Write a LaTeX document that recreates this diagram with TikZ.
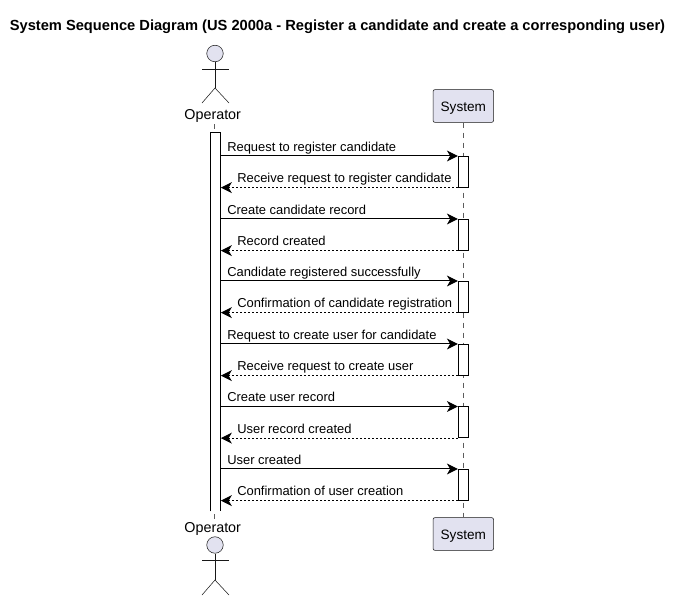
\documentclass[tikz,border=0pt]{standalone}
\usepackage{fontspec}
\setmainfont{Liberation Sans}
\usetikzlibrary{arrows.meta}
\definecolor{partfill}{HTML}{E2E2F0}
\definecolor{partline}{HTML}{181818}
\tikzset{
  partbox/.style={draw=partline,line width=.4pt,fill=partfill,rounded corners=1.5pt,minimum width=45.4pt,minimum height=24.6pt,inner sep=0pt,text height=8.3pt,text depth=0pt,font=\fontsize{10.2}{12}\selectfont},
  partlabel/.style={inner sep=0pt,font=\fontsize{10.75}{12}\selectfont},
  actorline/.style={draw=partline,line width=.4pt},
  actorhead/.style={circle,draw=partline,line width=.4pt,fill=partfill,minimum size=12.4pt,inner sep=0pt},
  lifeline/.style={draw=partline!70,line width=.4pt,dash pattern=on 3.75pt off 3.75pt},
  actbar/.style={draw=black,line width=.75pt,fill=white,minimum width=7.7pt,inner sep=0pt},
  callmsg/.style={draw=black,line width=.75pt,-{Stealth[inset=2.4pt,length=8.2pt,width=8.2pt]}},
  backmsg/.style={draw=black,line width=.6pt,dash pattern=on 1.5pt off 1.5pt,-{Stealth[inset=2.4pt,length=8.2pt,width=8.2pt,line width=.75pt,sep=0pt]}},
  msglabel/.style={anchor=base west,inner sep=0pt,font=\fontsize{9.7}{11}\selectfont}
}
\begin{document}
\begin{tikzpicture}[x=.75pt,y=-.75pt]
\useasboundingbox (0,0) rectangle (683,600);
\node[anchor=base,inner sep=0pt,font=\bfseries\fontsize{11}{13}\selectfont] (title) at (337.5,30) {System Sequence Diagram (US 2000a - Register a candidate and create a corresponding user)};
% participants on top
\node[actorhead] (ophead) at (215,53.5) {};
\draw[actorline] (ophead.south) -- (215,88) coordinate (ophip);
\draw[actorline] (202,69.5) coordinate (oparml) -- (229,69.5) coordinate (oparmr);
\draw[actorline] (202,103) coordinate (oplegl) -- (ophip) -- (229,103) coordinate (oplegr);
\node[partlabel] (optop) at (212.7,116) {Operator};
\node[partbox] (systop) at (463.3,106) {System};
% participants at the bottom
\node[partlabel] (opbottom) at (212.7,529) {Operator};
\node[partbox] (sysbottom) at (463.3,534) {System};
\node[actorhead] (opheadb) at (215,545) {};
\draw[actorline] (opheadb.south) -- (215,580) coordinate (ophipb);
\draw[actorline] (202,560) coordinate (oparmlb) -- (229,560) coordinate (oparmrb);
\draw[actorline] (202,595) coordinate (oplegbl) -- (ophipb) -- (229,595) coordinate (oplegbr);
% lifelines
\draw[lifeline] (214.5,124) coordinate (oplifetop) -- (214.5,519) coordinate (oplifebottom);
\draw[lifeline] (systop.south) -- (sysbottom.north);
% operator bar, open at its lower end
\node[fill=white,inner sep=0pt,minimum width=7.7pt,minimum height=283.5pt] (opbar) at (215.5,322) {};
\draw[draw=black,line width=.75pt] (opbar.south west) -- (opbar.north west) -- (opbar.north east) -- (opbar.south east);
% system bars
\node[actbar,minimum height=23pt] (sysbara) at (463.5,171.8) {};
\node[actbar,minimum height=23pt] (sysbarb) at (463.5,234.8) {};
\node[actbar,minimum height=23pt] (sysbarc) at (463.5,296.8) {};
\node[actbar,minimum height=23pt] (sysbard) at (463.5,359.8) {};
\node[actbar,minimum height=23pt] (sysbare) at (463.5,422.3) {};
\node[actbar,minimum height=23pt] (sysbarf) at (463.5,484.8) {};
% messages
\draw[callmsg] (opbar.east |- sysbara.north) -- (sysbara.north west);
\draw[backmsg] (sysbara.south west) -- (opbar.east |- sysbara.south);
\draw[callmsg] (opbar.east |- sysbarb.north) -- (sysbarb.north west);
\draw[backmsg] (sysbarb.south west) -- (opbar.east |- sysbarb.south);
\draw[callmsg] (opbar.east |- sysbarc.north) -- (sysbarc.north west);
\draw[backmsg] (sysbarc.south west) -- (opbar.east |- sysbarc.south);
\draw[callmsg] (opbar.east |- sysbard.north) -- (sysbard.north west);
\draw[backmsg] (sysbard.south west) -- (opbar.east |- sysbard.south);
\draw[callmsg] (opbar.east |- sysbare.north) -- (sysbare.north west);
\draw[backmsg] (sysbare.south west) -- (opbar.east |- sysbare.south);
\draw[callmsg] (opbar.east |- sysbarf.north) -- (sysbarf.north west);
\draw[backmsg] (sysbarf.south west) -- (opbar.east |- sysbarf.south);
% message labels
\node[msglabel] (lblaa) at (227,151) {Request to register candidate};
\node[msglabel] (lblab) at (237,182.5) {Receive request to register candidate};
\node[msglabel] (lblba) at (227,214) {Create candidate record};
\node[msglabel] (lblbb) at (237,245.5) {Record created};
\node[msglabel] (lblca) at (227,276) {Candidate registered successfully};
\node[msglabel] (lblcb) at (237,307.5) {Confirmation of candidate registration};
\node[msglabel] (lblda) at (227,339) {Request to create user for candidate};
\node[msglabel] (lbldb) at (237,370.5) {Receive request to create user};
\node[msglabel] (lblea) at (227,401.5) {Create user record};
\node[msglabel] (lbleb) at (237,433) {User record created};
\node[msglabel] (lblfa) at (227,464) {User created};
\node[msglabel] (lblfb) at (237,495.5) {Confirmation of user creation};
\end{tikzpicture}
\end{document}
